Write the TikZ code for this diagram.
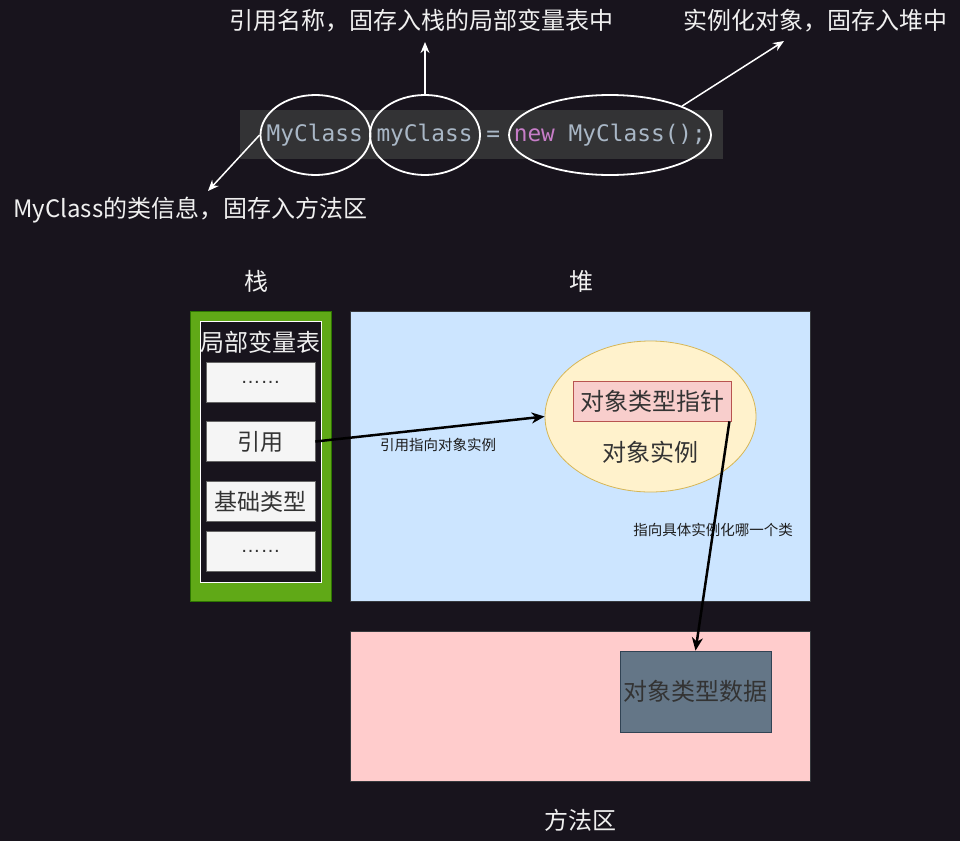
\documentclass[tikz,border=0pt]{standalone}
\usepackage{fontspec}
\setmainfont{Noto Sans CJK SC}
\setmonofont{DejaVu Sans Mono}
\newfontfamily\latinfont{Liberation Sans}
\usetikzlibrary{shapes.geometric,arrows.meta}
\definecolor{bgc}{RGB}{24,20,29}
\definecolor{codebar}{RGB}{51,51,53}
\definecolor{codetxt}{RGB}{169,183,198}
\definecolor{newkw}{RGB}{199,125,200}
\definecolor{labtxt}{RGB}{240,240,240}
\definecolor{stackfill}{HTML}{60A917}
\definecolor{stackdraw}{HTML}{2D7600}
\definecolor{cellfill}{HTML}{F5F5F5}
\definecolor{celldraw}{HTML}{666666}
\definecolor{celltxt}{HTML}{333333}
\definecolor{heapfill}{HTML}{CCE5FF}
\definecolor{areadraw}{HTML}{36393D}
\definecolor{instfill}{HTML}{FFF2CC}
\definecolor{instdraw}{HTML}{D6B656}
\definecolor{ptrfill}{HTML}{F8CECC}
\definecolor{ptrdraw}{HTML}{B85450}
\definecolor{methfill}{HTML}{FFCCCC}
\definecolor{tdfill}{HTML}{647687}
\definecolor{tddraw}{HTML}{314354}
\definecolor{edgetxt}{RGB}{30,30,30}
\begin{document}
\begin{tikzpicture}[x=1pt,y=-1pt,
  lbl/.style={text=labtxt, inner sep=0, font=\fontsize{24}{28}\selectfont},
  codeell/.style={ellipse, draw=white, line width=1.8pt, inner sep=0},
  whitearrow/.style={draw=white, line width=1.5pt, -{Stealth[length=11pt,width=9pt]}},
  blackarrow/.style={draw=black, line width=2.5pt, -{Stealth[length=13pt,width=11pt,inset=4pt]}},
  cellbox/.style={rectangle, fill=cellfill, draw=celldraw, line width=0.8pt, minimum width=109, minimum height=40, inner sep=0, text=celltxt, font=\fontsize{23}{27}\selectfont},
  areabox/.style={rectangle, draw=areadraw, line width=1pt, anchor=north west, inner sep=0},
  edgelbl/.style={text=edgetxt, inner sep=0, font=\fontsize{14.5}{17}\selectfont},
  boxtxt/.style={text=celltxt, inner sep=0, font=\fontsize{24}{28}\selectfont}
]
\useasboundingbox (0,0) rectangle (960,841);
\fill[bgc] (0,0) rectangle (960,841);

% code line
\node[fill=codebar, minimum width=483, minimum height=49, anchor=north west, inner sep=0] (bar) at (240,110) {};
\node[anchor=base west, inner sep=0, font=\ttfamily\fontsize{22.8}{28}\selectfont, text=codetxt] (code) at (266.5,141.5)
  {MyClass myClass = {\color{newkw}new} MyClass();};
\node[codeell, minimum width=110, minimum height=80] (e1) at (315.5,135) {};
\node[codeell, minimum width=110, minimum height=80] (e2) at (425,135) {};
\node[codeell, minimum width=202, minimum height=80] (e3) at (610,135) {};

% annotations
\node[lbl] (lname) at (421,21) {引用名称，固存入栈的局部变量表中};
\node[lbl] (lobj) at (815,21) {实例化对象，固存入堆中};
\node[lbl, anchor=west] (lclass) at (13,210) {MyClass的类信息，固存入方法区};
\coordinate (tname) at (425,42);
\coordinate (tobj) at (784,41);
\coordinate (tclass) at (208,191);
\draw[whitearrow] (e2.north) -- (tname);
\draw[whitearrow] (e3.north east) -- (tobj);
\draw[whitearrow] (e1.west) -- (tclass);

% section titles
\node[lbl] (tstack) at (256,281) {栈};
\node[lbl] (theap) at (581,281) {堆};
\node[lbl] (tmeth) at (580,820) {方法区};

% stack
\node[rectangle, fill=stackfill, draw=stackdraw, line width=1pt, anchor=north west, minimum width=141, minimum height=290, inner sep=0] (stack) at (190,311) {};
\node[rectangle, fill=bgc, draw=white, line width=1pt, anchor=north west, minimum width=121, minimum height=261, inner sep=0] (lvt) at (200,321) {};
\node[lbl] (lvttitle) at (260.5,342) {局部变量表};
\node[cellbox] (c1) at (260.5,382) {\latinfont\fontsize{20}{24}\selectfont ……};
\node[cellbox] (cref) at (260.5,441.5) {引用};
\node[cellbox] (cbase) at (260.5,501.5) {基础类型};
\node[cellbox] (c4) at (260.5,551.5) {\latinfont\fontsize{20}{24}\selectfont ……};

% heap
\node[areabox, fill=heapfill, minimum width=460, minimum height=290] (heap) at (350,311) {};
\node[ellipse, fill=instfill, draw=instdraw, line width=0.8pt, minimum width=211, minimum height=151, inner sep=0] (inst) at (650.5,416.5) {};
\node[rectangle, fill=ptrfill, draw=ptrdraw, line width=0.8pt, minimum width=158, minimum height=40, inner sep=0, text=celltxt, font=\fontsize{24}{28}\selectfont] (ptr) at (652,401) {对象类型指针};
\node[boxtxt] (insttxt) at (650,452) {对象实例};

% method area
\node[areabox, fill=methfill, minimum width=460, minimum height=150] (meth) at (350,631) {};
\node[rectangle, fill=tdfill, draw=tddraw, line width=0.8pt, minimum width=151, minimum height=81, inner sep=0, text=celltxt, font=\fontsize{24}{28}\selectfont] (tdata) at (695.5,691.5) {对象类型数据};

% connectors
\node[edgelbl] (lref) at (438,445) {引用指向对象实例};
\node[edgelbl] (lptr) at (713,530) {指向具体实例化哪一个类};
\draw[blackarrow] (cref.east) -- (inst.west);
\draw[blackarrow] ([xshift=-2pt]ptr.south east) -- (tdata.north);
\end{tikzpicture}
\end{document}
